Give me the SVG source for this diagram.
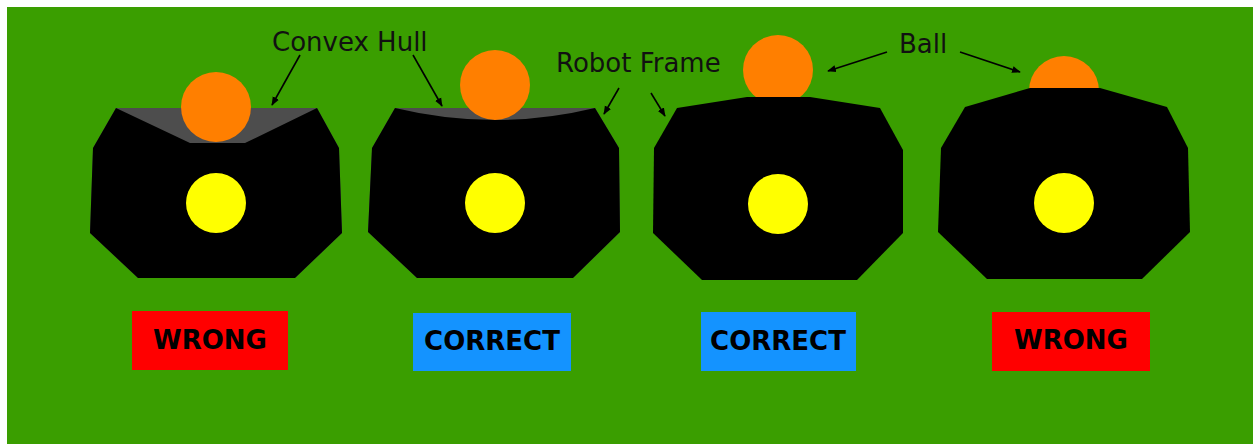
<svg xmlns="http://www.w3.org/2000/svg" width="1253" height="444" viewBox="0 0 1253 444">
<defs>
<marker id="ah" viewBox="0 0 10 10" refX="9" refY="5" markerWidth="5.5" markerHeight="5.5" orient="auto" markerUnits="strokeWidth">
<path d="M0,1 L10,5 L0,9 Z" fill="#000"/>
</marker>
<style>
.hull{fill:#4d4d4d}
.body{fill:#000}
.ball{fill:#ff7f00}
.core{fill:#ffff00}
.lbl{font-family:"DejaVu Sans",sans-serif;font-size:26px;fill:#111}
.btxt{font-family:"DejaVu Sans",sans-serif;font-size:26px;font-weight:bold;fill:#000;text-anchor:middle}
.wrong{fill:#ff0000}
.correct{fill:#1493ff}
.arr{stroke:#000;stroke-width:1.6;fill:none;marker-end:url(#ah)}
</style>
</defs>
<rect x="0" y="0" width="1253" height="444" fill="#ffffff"/>
<rect x="7" y="7" width="1246" height="437" fill="#3a9e00"/>

<g id="robot1">
<polygon class="hull" points="116,108 317,108 339,148 342,233 295,278 138,278 90,233 93,148"/>
<circle class="ball" cx="216" cy="107" r="35"/>
<polygon class="body" points="116,108 190,143 245,143 317,108 339,148 342,233 295,278 138,278 90,233 93,148"/>
<circle class="core" cx="216" cy="203" r="30"/>
</g>

<g id="robot2">
<polygon class="hull" points="395,108 595,108 619,148 620,232 573,278 417,278 368,232 372,148"/>
<circle class="ball" cx="495" cy="85" r="35"/>
<path class="body" d="M395,108 Q495,132 595,108 L619,148 L620,232 L573,278 L417,278 L368,232 L372,148 Z"/>
<circle class="core" cx="495" cy="203" r="30"/>
</g>

<g id="robot3">
<circle class="ball" cx="778" cy="70" r="35"/>
<polygon class="body" points="677,108 747,97 810,97 880,108 903,150 903,233 857,280 702,280 653,233 654,148"/>
<circle class="core" cx="778" cy="204" r="30"/>
</g>

<g id="robot4">
<circle class="ball" cx="1064" cy="91" r="35"/>
<polygon class="body" points="965,107 1030,88 1100,88 1167,107 1188,148 1190,232 1142,279 987,279 938,232 941,148"/>
<circle class="core" cx="1064" cy="203" r="30"/>
</g>

<g id="label-convex-hull">
<text class="lbl" x="272" y="51">Convex Hull</text>
</g>
<g id="label-robot-frame">
<text class="lbl" x="556" y="72">Robot Frame</text>
</g>
<g id="label-ball">
<text class="lbl" x="899" y="53">Ball</text>
</g>

<g id="connectors">
<line class="arr" x1="300" y1="55" x2="272" y2="105"/>
<line class="arr" x1="413" y1="55" x2="442" y2="106"/>
<line class="arr" x1="619" y1="88" x2="604" y2="114"/>
<line class="arr" x1="651" y1="93" x2="665" y2="116"/>
<line class="arr" x1="887" y1="52" x2="828" y2="71"/>
<line class="arr" x1="960" y1="52" x2="1020" y2="72"/>
</g>

<g id="btn1">
<rect class="wrong" x="132" y="311" width="156" height="59"/>
<text class="btxt" x="210" y="349">WRONG</text>
</g>
<g id="btn2">
<rect class="correct" x="413" y="313" width="158" height="58"/>
<text class="btxt" x="492" y="350">CORRECT</text>
</g>
<g id="btn3">
<rect class="correct" x="701" y="312" width="155" height="59"/>
<text class="btxt" x="778" y="350">CORRECT</text>
</g>
<g id="btn4">
<rect class="wrong" x="992" y="312" width="158" height="59"/>
<text class="btxt" x="1071" y="349">WRONG</text>
</g>
</svg>
